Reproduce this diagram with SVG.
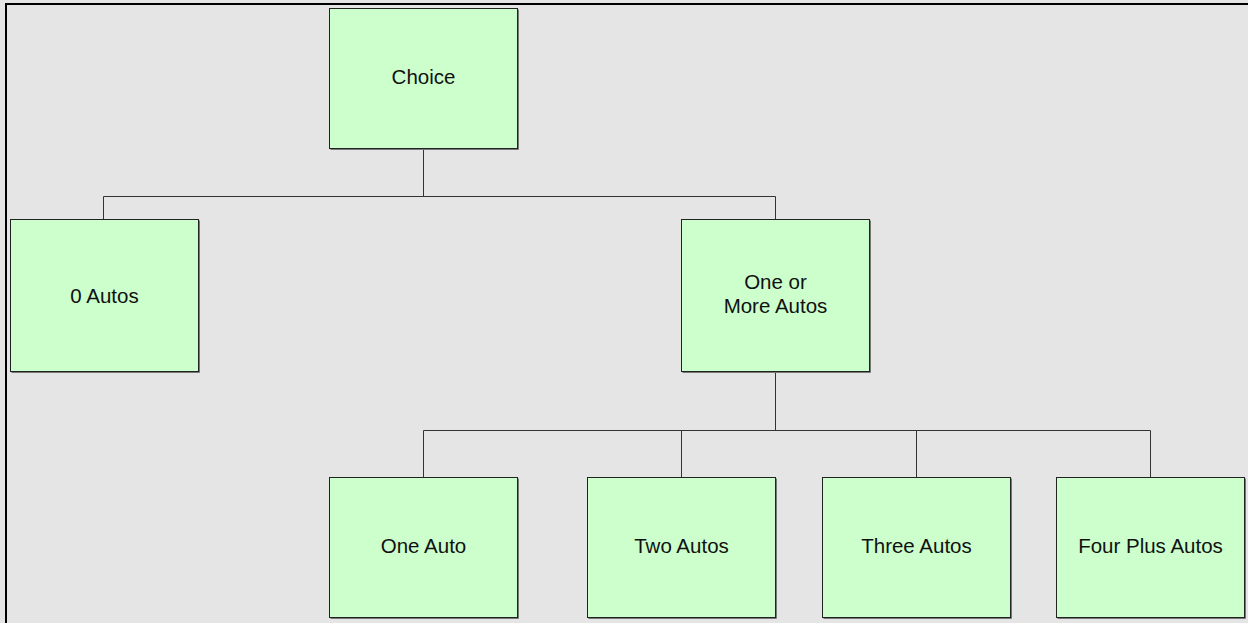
<svg xmlns="http://www.w3.org/2000/svg" width="1248" height="623" viewBox="0 0 1248 623">
  <style>
    .box { fill: #ccffcc; stroke: #222222; stroke-width: 1; }
    .shadow { fill: none; stroke: #777777; stroke-width: 1; }
    .lbl { font-family: "Liberation Sans", Arial, sans-serif; font-size: 20.5px; fill: #111111; text-anchor: middle; }
    .conn { fill: none; stroke: #333333; stroke-width: 1; }
  </style>
  <rect x="0" y="0" width="1248" height="623" fill="#e5e5e5"/>
  <path d="M5 4 H1248 M6 3 V623" stroke="#000000" stroke-width="2" fill="none"/>

  <g id="connectors">
    <path class="conn" d="M423.5 149 V196.5 M103.5 196.5 H775.5 M103.5 196.5 V219.5 M775.5 196.5 V219.5"/>
    <path class="conn" d="M775.5 371.5 V430.5 M423.5 430.5 H1150.5 M423.5 430.5 V477.5 M681.5 430.5 V477.5 M916.5 430.5 V477.5 M1150.5 430.5 V477.5"/>
  </g>

  <g id="choice">
    <path class="shadow" d="M518.5 9.5 V149.5 H330.5"/>
    <rect class="box" x="329.5" y="8.5" width="188" height="140"/>
    <text class="lbl" x="423.5" y="84">Choice</text>
  </g>

  <g id="zero-autos">
    <path class="shadow" d="M199.5 220.5 V372.5 H11.5"/>
    <rect class="box" x="10.5" y="219.5" width="188" height="152"/>
    <text class="lbl" x="104.5" y="303">0 Autos</text>
  </g>

  <g id="one-or-more">
    <path class="shadow" d="M870.5 220.5 V372.5 H682.5"/>
    <rect class="box" x="681.5" y="219.5" width="188" height="152"/>
    <text class="lbl" x="775.5" y="289">One or</text>
    <text class="lbl" x="775.5" y="313">More Autos</text>
  </g>

  <g id="one-auto">
    <path class="shadow" d="M518.5 478.5 V618.5 H330.5"/>
    <rect class="box" x="329.5" y="477.5" width="188" height="140"/>
    <text class="lbl" x="423.5" y="553">One Auto</text>
  </g>

  <g id="two-autos">
    <path class="shadow" d="M776.5 478.5 V618.5 H588.5"/>
    <rect class="box" x="587.5" y="477.5" width="188" height="140"/>
    <text class="lbl" x="681.5" y="553">Two Autos</text>
  </g>

  <g id="three-autos">
    <path class="shadow" d="M1011.5 478.5 V618.5 H823.5"/>
    <rect class="box" x="822.5" y="477.5" width="188" height="140"/>
    <text class="lbl" x="916.5" y="553">Three Autos</text>
  </g>

  <g id="four-plus-autos">
    <path class="shadow" d="M1245.5 478.5 V618.5 H1057.5"/>
    <rect class="box" x="1056.5" y="477.5" width="188" height="140"/>
    <text class="lbl" x="1150.5" y="553">Four Plus Autos</text>
  </g>
</svg>
